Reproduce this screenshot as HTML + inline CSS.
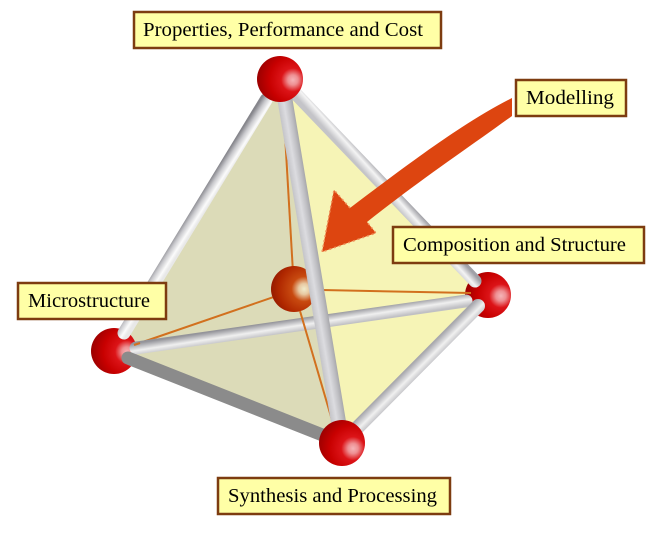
<!DOCTYPE html>
<html>
<head>
<meta charset="utf-8">
<style>
html,body{margin:0;padding:0;background:#fff;}
svg{display:block;}
text{font-family:"Liberation Serif",serif;font-size:20px;fill:#000;}
.box{fill:#ffffa6;stroke:#7d3c10;stroke-width:2.5;}
.o{stroke:#d2701e;stroke-width:2;fill:none;}
</style>
</head>
<body>
<svg width="668" height="538" viewBox="0 0 668 538" xmlns="http://www.w3.org/2000/svg">
<defs>
<radialGradient id="s1" cx="0.78" cy="0.52" r="0.85">
<stop offset="0" stop-color="#f5b5b8"/><stop offset="0.13" stop-color="#ee8f92"/><stop offset="0.3" stop-color="#dc1418"/><stop offset="0.6" stop-color="#c80000"/><stop offset="1" stop-color="#8f0000"/>
</radialGradient>
<radialGradient id="s2" cx="0.74" cy="0.62" r="0.85">
<stop offset="0" stop-color="#f5b5b8"/><stop offset="0.13" stop-color="#ee8f92"/><stop offset="0.3" stop-color="#dc1418"/><stop offset="0.6" stop-color="#c80000"/><stop offset="1" stop-color="#8f0000"/>
</radialGradient>
<radialGradient id="s3" cx="0.72" cy="0.5" r="0.85">
<stop offset="0" stop-color="#f0eccc"/><stop offset="0.14" stop-color="#e8c8a0"/><stop offset="0.32" stop-color="#c84a10"/><stop offset="0.65" stop-color="#b02800"/><stop offset="1" stop-color="#801000"/>
</radialGradient>
<linearGradient id="r1" gradientUnits="userSpaceOnUse" x1="188.5" y1="213" x2="199.5" y2="220">
<stop offset="0" stop-color="#86868c"/><stop offset="0.35" stop-color="#c8c8cc"/><stop offset="0.75" stop-color="#fbfbfb"/><stop offset="1" stop-color="#e8e8e8"/>
</linearGradient>
<linearGradient id="r2" gradientUnits="userSpaceOnUse" x1="391" y1="182" x2="381" y2="191">
<stop offset="0" stop-color="#a0a0a6"/><stop offset="0.5" stop-color="#f4f4f4"/><stop offset="1" stop-color="#c4c4c8"/>
</linearGradient>
<linearGradient id="r3" gradientUnits="userSpaceOnUse" x1="304.5" y1="263.5" x2="319.5" y2="261">
<stop offset="0" stop-color="#c4c4c8"/><stop offset="0.4" stop-color="#dcdce0"/><stop offset="0.75" stop-color="#c0c0c4"/><stop offset="1" stop-color="#a6a6aa"/>
</linearGradient>
<linearGradient id="r4" gradientUnits="userSpaceOnUse" x1="300" y1="318" x2="302" y2="331">
<stop offset="0" stop-color="#94949a"/><stop offset="0.55" stop-color="#f0f0f0"/><stop offset="1" stop-color="#c0c0c4"/>
</linearGradient>
<linearGradient id="r5" gradientUnits="userSpaceOnUse" x1="413" y1="363" x2="423" y2="373">
<stop offset="0" stop-color="#a8a8ae"/><stop offset="0.55" stop-color="#f0f0f0"/><stop offset="1" stop-color="#c0c0c4"/>
</linearGradient>
</defs>
<rect width="668" height="538" fill="#fff"/>

<!-- faces -->
<polygon points="280,79 488,295 342,443" fill="#f6f4b6"/>
<polygon points="280,79 114,351 342,443" fill="#dcdbb8"/>

<!-- inner orange lines -->
<line class="o" x1="283" y1="100" x2="294" y2="290"/>
<line class="o" x1="134" y1="345" x2="294" y2="290"/>

<!-- back sphere -->
<circle cx="294" cy="289" r="23" fill="url(#s3)"/>

<!-- spheres beneath rods -->
<circle cx="488" cy="295" r="23" fill="url(#s1)"/>
<circle cx="114" cy="351" r="23" fill="url(#s1)"/>

<line class="o" x1="322" y1="290" x2="471" y2="293"/>

<!-- rods -->
<g stroke-linecap="round" fill="none">
<line x1="266" y1="100" x2="124" y2="333" stroke="url(#r1)" stroke-width="13"/>
<line x1="294" y1="92" x2="475" y2="281" stroke="url(#r2)" stroke-width="13"/>
<line x1="136" y1="348" x2="466" y2="301" stroke="url(#r4)" stroke-width="13"/>
<line x1="478" y1="306" x2="355" y2="430" stroke="url(#r5)" stroke-width="14"/>
<line x1="128" y1="358" x2="325" y2="436" stroke="#8b8b8b" stroke-width="13"/>
</g>
<line class="o" x1="300" y1="311" x2="332" y2="420"/>
<line x1="285" y1="100" x2="339" y2="425" stroke="url(#r3)" stroke-width="15" stroke-linecap="round"/>
<line class="o" x1="134" y1="345" x2="140" y2="343"/>

<!-- front spheres -->
<circle cx="280" cy="79" r="23" fill="url(#s1)"/>
<circle cx="342" cy="443" r="23" fill="url(#s2)"/>

<!-- arrow -->
<path d="M512,98 C465,122 420,155 350,208 L334,190 L322,252 L376,233 L367,222 C420,180 465,150 512,116 Z" fill="#dd4510"/>
<path d="M350,208 L334,190 L322,252 L376,233 L367,222" fill="none" stroke="#f0905a" stroke-width="1.5" stroke-dasharray="2 3"/>

<!-- labels -->
<rect class="box" x="134" y="12" width="307" height="36"/>
<text x="143" y="36" textLength="280" lengthAdjust="spacingAndGlyphs">Properties, Performance and Cost</text>

<rect class="box" x="516" y="80" width="110" height="36"/>
<text x="526" y="104" textLength="88" lengthAdjust="spacingAndGlyphs">Modelling</text>

<rect class="box" x="393" y="227" width="251" height="36"/>
<text x="403" y="251" textLength="223" lengthAdjust="spacingAndGlyphs">Composition and Structure</text>

<rect class="box" x="18" y="283" width="148" height="36"/>
<text x="28" y="307" textLength="122" lengthAdjust="spacingAndGlyphs">Microstructure</text>

<rect class="box" x="218" y="478" width="232" height="36"/>
<text x="228" y="502" textLength="209" lengthAdjust="spacingAndGlyphs">Synthesis and Processing</text>
</svg>
</body>
</html>
